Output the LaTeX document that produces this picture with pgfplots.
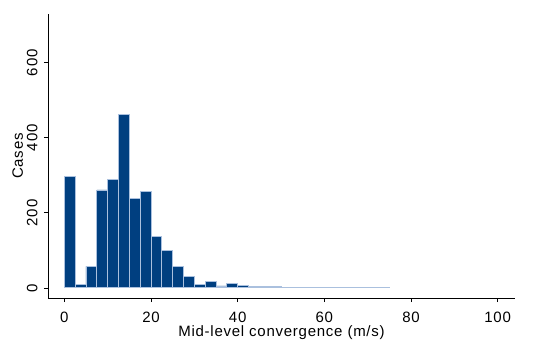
\documentclass[border=0pt]{standalone}
\usepackage{pgfplots}
\pgfplotsset{compat=1.18}
\usepackage{fontspec}
\setmainfont{Liberation Sans}
\newfontfamily\lblfont[LetterSpace=5]{Liberation Sans}
\definecolor{stnavy}{RGB}{0,63,128}
\definecolor{stedge}{RGB}{170,192,222}
\begin{document}
\begin{tikzpicture}
\useasboundingbox (-48pt,-48pt) rectangle (500pt,298pt);
\begin{axis}[
  at={(0pt,0pt)}, anchor=south west,
  scale only axis, width=467pt, height=284pt,
  axis x line*=bottom, axis y line*=left,
  axis line style={line width=0.9pt},
  xmin=-3.76, xmax=104, ymin=-27, ymax=730,
  xtick={0,20,...,100}, ytick={0,200,400,600},
  tick align=outside, tick style={line width=0.7pt, black}, major tick length=4pt,
  yticklabel style={rotate=90, font=\lblfont\fontsize{15}{15}\selectfont, yshift=3pt},
  xticklabel style={font=\lblfont\fontsize{15}{15}\selectfont, yshift=-6pt},
  /pgf/number format/assume math mode=true,
  xlabel={Mid-level convergence (m/s)}, ylabel={Cases},
  xlabel style={font=\lblfont\fontsize{15}{15}\selectfont, yshift=3pt},
  ylabel style={font=\lblfont\fontsize{15}{15}\selectfont, yshift=-3pt},
  clip=false,
]
\addplot[ybar interval, fill=stnavy, draw=stedge, line width=0.8pt] coordinates {
(0,297) (2.5,8) (5,57) (7.5,261) (10,288) (12.5,463) (15,238) (17.5,256)
(20,137) (22.5,100) (25,57) (27.5,31) (30,9) (32.5,17) (35,5) (37.5,12)
(40,6) (42.5,4) (45,4) (47.5,4) (50,1) (52.5,1) (55,1) (57.5,1) (60,1)
(62.5,1) (65,2) (67.5,1) (70,2) (72.5,1) (75,1)
};
\end{axis}
\end{tikzpicture}
\end{document}
